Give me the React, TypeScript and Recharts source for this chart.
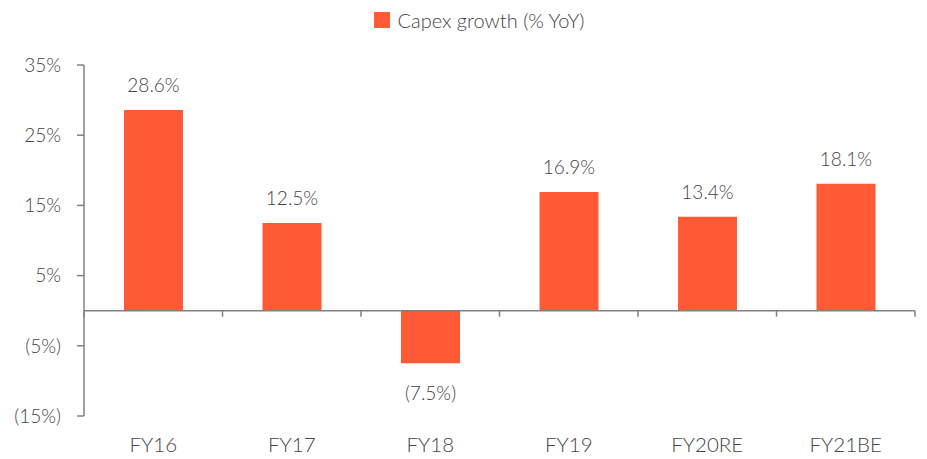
import React from 'react';
import { BarChart, Bar, XAxis, YAxis, ReferenceLine, LabelList, Legend } from 'recharts';

const categories = ['FY16', 'FY17', 'FY18', 'FY19', 'FY20RE', 'FY21BE'];
const capexGrowth = [28.6, 12.5, -7.5, 16.9, 13.4, 18.1];
const yTicks = [-15, -5, 5, 15, 25, 35];
const seriesName = 'Capex growth (% YoY)';

const data = categories.map((c, i) => ({ category: c, value: capexGrowth[i] }));

const FONT = 'Lato, "Noto Sans", sans-serif';
const TEXT = '#444444';
const AXIS = '#808080';
const BAR = '#FF5A35';

const fmt = (v: number) => (v < 0 ? `(${Math.abs(v)}%)` : `${v}%`);

const ZeroAxis = (props: any) => {
  const { x1, x2, y1 } = props;
  const n = categories.length;
  const step = (x2 - x1) / n;
  const ticks = [];
  for (let i = 0; i <= n; i++) {
    const x = x1 + i * step;
    ticks.push(<line key={i} x1={x} x2={x} y1={y1} y2={y1 + 6} stroke={AXIS} strokeWidth={1.5} />);
  }
  return (
    <g>
      <line x1={x1} x2={x2} y1={y1} y2={y1} stroke={AXIS} strokeWidth={1.5} />
      {ticks}
    </g>
  );
};

const ValueLabel = (props: any) => {
  const { x, y, width, value } = props;
  const cx = x + width / 2;
  const ty = value >= 0 ? y - 18 : y + 37;
  return (
    <text x={cx} y={ty} textAnchor="middle" fill={TEXT} fontSize={19} fontFamily={FONT} fontWeight={300}>
      {fmt(value)}
    </text>
  );
};

const LegendContent = () => (
  <div style={{ display: 'flex', justifyContent: 'center', alignItems: 'center', paddingLeft: 32, fontFamily: FONT, fontWeight: 300, fontSize: 20, color: TEXT }}>
    <span style={{ display: 'inline-block', width: 16, height: 16, background: BAR, marginRight: 7 }} />
    <span>{seriesName}</span>
  </div>
);

export default function App() {
  return (
    <div style={{ position: 'absolute', left: 0, top: 0 }}>
      <BarChart width={927} height={459} data={data} margin={{ top: 65, right: 12, bottom: 0, left: 0 }}>
        <Legend verticalAlign="middle" align="center" content={<LegendContent />} wrapperStyle={{ top: 8, left: 0, width: 927 }} />
        <XAxis
          dataKey="category"
          axisLine={false}
          tickLine={false}
          tickSize={0}
          tickMargin={21}
          height={43}
          tick={{ fill: TEXT, fontSize: 20.5, fontFamily: FONT, fontWeight: 300 }}
          interval={0}
        />
        <YAxis
          domain={[-15, 35]}
          ticks={yTicks}
          interval={0}
          width={84}
          tickFormatter={fmt}
          axisLine={{ stroke: AXIS, strokeWidth: 1.5 }}
          tickLine={{ stroke: AXIS, strokeWidth: 1.5 }}
          tickSize={7}
          tickMargin={16}
          tick={{ fill: TEXT, fontSize: 19, fontFamily: FONT, fontWeight: 300 }}
        />
        <Bar dataKey="value" name={seriesName} fill={BAR} barSize={59} isAnimationActive={false}>
          <LabelList dataKey="value" content={<ValueLabel />} />
        </Bar>
        <ReferenceLine y={0} shape={<ZeroAxis />} ifOverflow="visible" />
      </BarChart>
    </div>
  );
}
